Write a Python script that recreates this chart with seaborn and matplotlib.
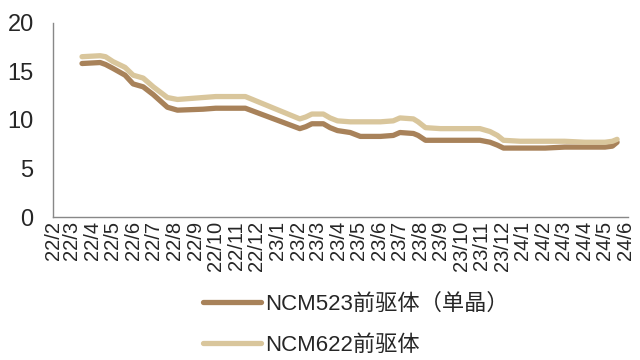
import pandas as pd
import numpy as np
import matplotlib
matplotlib.use("Agg")
import matplotlib.pyplot as plt
import seaborn as sns

# 数据
dates = ["2022-03-16", "2022-04-12", "2022-04-20", "2022-05-01", "2022-05-19",
         "2022-05-31", "2022-06-15", "2022-06-30", "2022-07-21", "2022-08-05",
         "2022-09-12", "2022-10-01", "2022-11-14", "2023-02-03", "2023-02-12",
         "2023-02-21", "2023-03-10", "2023-03-20", "2023-03-31", "2023-04-19",
         "2023-05-04", "2023-06-03", "2023-06-22", "2023-07-02", "2023-07-22",
         "2023-07-29", "2023-08-09", "2023-08-31", "2023-09-30", "2023-10-29",
         "2023-11-13", "2023-11-24", "2023-12-03", "2023-12-28", "2024-02-03",
         "2024-03-03", "2024-04-02", "2024-05-02", "2024-05-13", "2024-05-20"]
ncm523 = [15.8, 15.9, 15.7, 15.3, 14.6, 13.7, 13.4, 12.6, 11.3, 11.0,
          11.1, 11.2, 11.2, 9.1, 9.3, 9.6, 9.6, 9.2, 8.9, 8.7,
          8.3, 8.3, 8.4, 8.7, 8.6, 8.4, 7.9, 7.9, 7.9, 7.9,
          7.7, 7.4, 7.1, 7.1, 7.1, 7.2, 7.2, 7.2, 7.3, 7.7]
ncm622 = [16.5, 16.6, 16.5, 16.0, 15.4, 14.6, 14.3, 13.4, 12.3, 12.1,
          12.3, 12.4, 12.4, 10.1, 10.3, 10.6, 10.6, 10.2, 9.9, 9.8,
          9.8, 9.8, 9.9, 10.2, 10.1, 9.8, 9.2, 9.1, 9.1, 9.1,
          8.8, 8.4, 7.9, 7.8, 7.8, 7.8, 7.7, 7.7, 7.8, 8.0]
series_names = ["NCM523前驱体（单晶）", "NCM622前驱体"]
month_labels = ["22/2", "22/3", "22/4", "22/5", "22/6", "22/7", "22/8", "22/9",
                "22/10", "22/11", "22/12", "23/1", "23/2", "23/3", "23/4", "23/5",
                "23/6", "23/7", "23/8", "23/9", "23/10", "23/11", "23/12", "24/1",
                "24/2", "24/3", "24/4", "24/5", "24/6"]

df = pd.DataFrame({"date": pd.to_datetime(dates), series_names[0]: ncm523, series_names[1]: ncm622})
long = df.melt(id_vars="date", var_name="series", value_name="price")

sns.set_style("white")
plt.rcParams['font.family'] = ['Liberation Sans', 'Noto Sans CJK SC']

fig = plt.figure(figsize=(6.4, 3.6), dpi=100)
ax = fig.add_axes([0.083, 0.397, 0.898, 0.54])

sns.lineplot(data=long, x="date", y="price", hue="series", palette=["#A8825A", "#D9C69C"],
             linewidth=3.8, ax=ax, legend=True)

ax.set_ylim(0, 20)
ax.set_yticks([0, 5, 10, 15, 20])
ticks = pd.date_range("2022-02-01", "2024-06-01", freq="MS")
ax.set_xlim(pd.Timestamp("2022-02-01"), pd.Timestamp("2024-06-05"))
ax.set_xticks(ticks)
ax.set_xticklabels(month_labels, rotation=90)
ax.set_xlabel("")
ax.set_ylabel("")

for s in ["top", "right"]:
    ax.spines[s].set_visible(False)
for s in ["left", "bottom"]:
    ax.spines[s].set_color("#888888")
    ax.spines[s].set_linewidth(1.0)

ax.tick_params(axis="y", direction="in", length=5, color="#888888", pad=14, labelsize=17)
ax.tick_params(axis="x", direction="in", length=5, color="#555555", pad=3, labelsize=14.5)

handles, labels = ax.get_legend_handles_labels()
ax.legend_.remove()
fig.legend(handles, labels, loc="upper left", bbox_to_anchor=(0.317, 0.185), ncol=1,
           frameon=False, fontsize=16, handlelength=2.6, handletextpad=0.2,
           labelspacing=0.9, borderpad=0, borderaxespad=0)

fig.savefig("out.png", dpi=100)
